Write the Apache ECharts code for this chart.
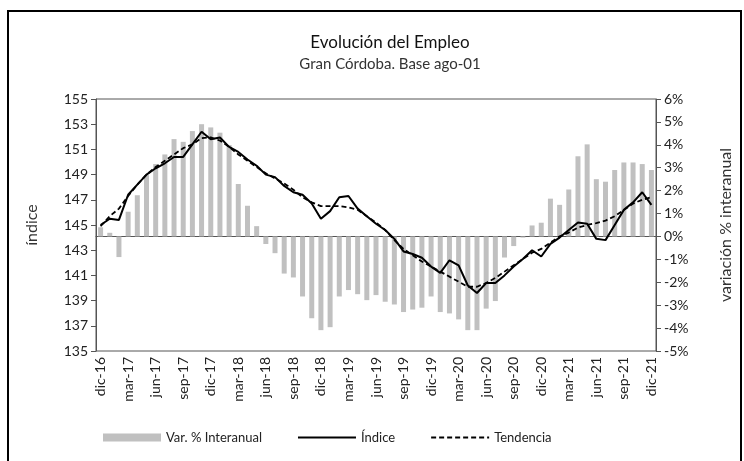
<!DOCTYPE html>
<html>
<head>
<meta charset="utf-8">
<script src="https://cdn.jsdelivr.net/npm/echarts@6/dist/echarts.min.js"></script>
<style>
  html, body { margin: 0; padding: 0; background: #fff; }
  #chart { width: 744px; height: 461px; }
</style>
</head>
<body>
<div id="chart"></div>
<script>
// Monthly categories dic-16 .. dic-21
const months = ['ene','feb','mar','abr','may','jun','jul','ago','sep','oct','nov','dic'];
const categories = [];
for (let y = 16; y <= 21; y++) {
  for (let m = 0; m < 12; m++) {
    if (y === 16 && m < 11) continue;
    categories.push(months[m] + '-' + y);
  }
}

// Year-on-year change, % (right axis)
const varInteranual = [
  0.4, 0.16, -0.9, 1.08, 1.8, 2.68, 3.16, 3.58, 4.25, 4.13,
  4.6, 4.9, 4.76, 4.53, 3.99, 2.29, 1.34, 0.45, -0.33, -0.73,
  -1.62, -1.79, -2.62, -3.57, -4.09, -3.96, -2.62, -2.34, -2.52, -2.78,
  -2.56, -2.85, -2.97, -3.3, -3.19, -3.11, -2.62, -3.3, -3.36, -3.62,
  -4.09, -4.09, -3.15, -2.82, -0.92, -0.42, -0.05, 0.48, 0.6, 1.65,
  1.38, 2.05, 3.5, 4.02, 2.5, 2.39, 2.9, 3.23, 3.23, 3.16,
  2.9
];

// Employment index, base ago-01 (left axis)
const indice = [
  145.0, 145.5, 145.4, 147.4, 148.2, 149.0, 149.5, 149.9, 150.4, 150.4,
  151.4, 152.4, 151.8, 151.95, 151.2, 150.8, 150.2, 149.7, 149.0, 148.8,
  148.1, 147.6, 147.4, 146.7, 145.5, 146.1, 147.2, 147.3, 146.3, 145.7,
  145.1, 144.6, 143.9, 142.9, 142.7, 142.4, 141.7, 141.2, 142.2, 141.8,
  140.2, 139.6, 140.4, 140.4, 141.0, 141.7, 142.3, 143.0, 142.5, 143.5,
  144.0, 144.6, 145.2, 145.1, 143.9, 143.8, 145.0, 146.2, 146.8, 147.6,
  146.6
];

// Trend of the index
const tendencia = [
  144.9, 145.7, 146.3, 147.3, 148.2, 149.0, 149.6, 150.1, 150.6, 151.1,
  151.4, 151.9, 151.95, 151.7, 151.2, 150.6, 150.1, 149.6, 149.1, 148.7,
  148.3, 147.8, 147.2, 146.8, 146.5, 146.5, 146.5, 146.4, 146.2, 145.7,
  145.2, 144.6, 143.8, 143.1, 142.6, 142.1, 141.7, 141.3, 140.9, 140.5,
  140.1, 140.1, 140.4, 140.8, 141.3, 141.8, 142.3, 142.8, 143.1, 143.6,
  144.1, 144.4, 144.8, 145.0, 145.15, 145.35, 145.7, 146.2, 146.7, 147.0,
  147.2
];

const FONT = 'Lato';
const chart = echarts.init(document.getElementById('chart'));

chart.setOption({
  animation: false,
  backgroundColor: '#fff',
  textStyle: { fontFamily: FONT },
  title: [
    { text: 'Evolución del Empleo', left: 385, textAlign: 'center', top: 29,
      textStyle: { fontFamily: FONT, fontSize: 17, fontWeight: 'normal', color: '#111' } },
    { text: 'Gran Córdoba. Base ago-01', left: 385, textAlign: 'center', top: 52,
      textStyle: { fontFamily: FONT, fontSize: 15, fontWeight: 'normal', color: '#333' } }
  ],
  graphic: [
    { type: 'rect', shape: { x: 8, y: 11, width: 733, height: 470 },
      style: { fill: 'none', stroke: '#000', lineWidth: 2 }, silent: true }
  ],
  grid: { left: 96, right: 88, top: 99, bottom: 110, show: true,
          borderColor: '#555', borderWidth: 1, backgroundColor: 'transparent' },
  legend: {
    bottom: 12, left: 98, itemGap: 35, itemWidth: 58, itemHeight: 8,
    textStyle: { fontFamily: FONT, fontSize: 13, color: '#222' },
    data: [
      { name: 'Var. % Interanual', icon: 'rect' },
      { name: 'Índice', itemStyle: { opacity: 0 } },
      { name: 'Tendencia', itemStyle: { opacity: 0 } }
    ]
  },
  xAxis: {
    type: 'category',
    data: categories,
    boundaryGap: true,
    axisLine: { lineStyle: { color: '#555' } },
    axisTick: { interval: 2, length: 5, lineStyle: { color: '#555' } },
    axisLabel: { interval: 2, rotate: 90, fontSize: 14, color: '#222', margin: 6, fontFamily: FONT }
  },
  yAxis: [
    {
      type: 'value', min: 135, max: 155, interval: 2, position: 'left',
      name: 'índice', nameLocation: 'middle', nameGap: 56, nameRotate: 90,
      nameTextStyle: { fontFamily: FONT, fontSize: 16, color: '#333' },
      axisLine: { show: true, lineStyle: { color: '#555' } },
      axisTick: { show: true, length: 5, lineStyle: { color: '#555' } },
      splitLine: { show: false },
      axisLabel: { fontSize: 14, color: '#222', margin: 8, fontFamily: FONT }
    },
    {
      type: 'value', min: -5, max: 6, interval: 1, position: 'right',
      name: 'variación % interanual', nameLocation: 'middle', nameGap: 62, nameRotate: 90,
      nameTextStyle: { fontFamily: FONT, fontSize: 16, color: '#333' },
      axisLine: { show: true, lineStyle: { color: '#555' } },
      axisTick: { show: true, length: 5, lineStyle: { color: '#555' } },
      splitLine: { show: false },
      axisLabel: { fontSize: 14, color: '#222', margin: 8, fontFamily: FONT,
                   formatter: v => v + '%' }
    }
  ],
  series: [
    {
      name: 'Var. % Interanual', type: 'bar', yAxisIndex: 1,
      data: varInteranual, barWidth: 5,
      itemStyle: { color: '#c0c0c0' }
    },
    {
      name: 'Índice', type: 'line', yAxisIndex: 0, data: indice,
      symbol: 'none', lineStyle: { color: '#000', width: 2 },
      itemStyle: { color: '#000' }
    },
    {
      name: 'Tendencia', type: 'line', yAxisIndex: 0, data: tendencia,
      symbol: 'none', smooth: false,
      lineStyle: { color: '#000', width: 1.8, type: [5, 3] },
      itemStyle: { color: '#000' }
    }
  ]
});
</script>
</body>
</html>
